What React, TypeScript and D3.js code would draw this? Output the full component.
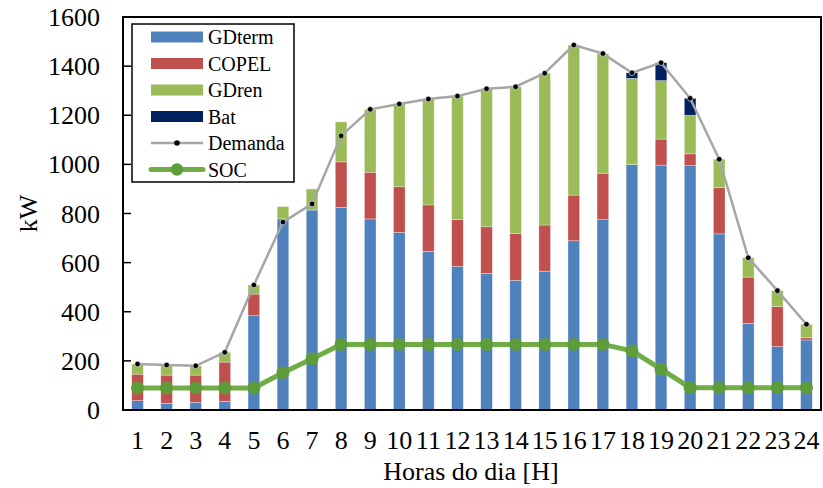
import React from "react";
import * as d3 from "d3";

const hours = ["1","2","3","4","5","6","7","8","9","10","11","12","13","14","15","16","17","18","19","20","21","22","23","24"];
const gdterm = [38,27,31,35,384,778,814,825,778,723,646,585,556,528,565,689,775,999,997,995,717,353,258,285];
const copel = [108,115,111,160,88,0,0,185,190,186,189,190,190,190,188,186,189,0,106,48,188,188,163,9];
const gdren = [41,41,38,40,37,50,86,163,256,337,431,503,562,598,618,611,487,351,238,157,116,79,65,55];
const bat = [0,0,0,0,0,0,0,0,0,0,0,0,0,0,0,0,0,23,73,69,0,0,0,0];
const demanda = [187,183,180,235,509,765,839,1116,1224,1246,1266,1278,1308,1316,1371,1486,1451,1373,1414,1269,1021,620,486,349];
const soc = [90,90,90,90,90,152,209,267,267,267,267,267,267,267,267,267,267,241,166,91,91,91,91,91];
const yTicks = [0,200,400,600,800,1000,1200,1400,1600];

const seriesNames = ["GDterm","COPEL","GDren","Bat"];
const seriesColors = ["#4F81BD","#C0504D","#9BBB59","#002060"];

export default function App() {
  const W = 823, H = 488;
  const left = 123, right = 821, top = 17, bottom = 410;
  const font = "'Liberation Serif', 'Times New Roman', serif";
  const x = d3.scaleBand<string>().domain(hours).range([left, right]).paddingInner(0.6).paddingOuter(0.3);
  const xc = (i: number) => (x(hours[i]) as number) + x.bandwidth() / 2;
  const y = d3.scaleLinear().domain([0, 1600]).range([bottom, top]);

  const rows = hours.map((h, i) => ({ h, GDterm: gdterm[i], COPEL: copel[i], GDren: gdren[i], Bat: bat[i] }));
  const stack = d3.stack<any>().keys(seriesNames)(rows);

  const line = d3.line<number>().x((_, i) => xc(i)).y(d => y(d));

  const lgX = 132, lgY = 24, lgW = 162, lgH = 158, rowH = 26.5;
  return (
    <svg width={W} height={H} style={{ position: "absolute", left: 0, top: 0 }} fontFamily={font}>
      <rect x={0} y={0} width={W} height={H} fill="#fff" />
      {stack.map((s, si) => (
        <g key={si} fill={seriesColors[si]}>
          {s.map((d, i) => d[1] - d[0] > 0 ? (
            <rect key={i} x={x(hours[i])} width={x.bandwidth()} y={y(d[1])} height={y(d[0]) - y(d[1])}
              stroke="#ffffff" strokeOpacity={0.45} strokeWidth={0.7} />
          ) : null)}
        </g>
      ))}
      <path d={line(demanda) || ""} fill="none" stroke="#A6A6A6" strokeWidth={2.5} />
      {demanda.map((d, i) => <circle key={i} cx={xc(i)} cy={y(d)} r={2.8} fill="#000" stroke="#fff" strokeWidth={0.6} />)}
      <path d={line(soc) || ""} fill="none" stroke="#70AD47" strokeWidth={5} />
      {soc.map((d, i) => <circle key={i} cx={xc(i)} cy={y(d)} r={6.5} fill="#5E9C3A" />)}
      <rect x={left} y={top} width={right - left} height={bottom - top} fill="none" stroke="#000" strokeWidth={2} />
      {yTicks.map(t => (
        <g key={t}>
          <line x1={left} x2={left + 8} y1={y(t)} y2={y(t)} stroke="#000" strokeWidth={1.5} />
          <text x={100} y={y(t)} dy="0.35em" textAnchor="end" fontSize={26} fill="#000">{t}</text>
        </g>
      ))}
      {hours.map((h, i) => (
        <text key={h} x={xc(i)} y={449} textAnchor="middle" fontSize={26} fill="#000">{h}</text>
      ))}
      <text x={471} y={480} textAnchor="middle" fontSize={26} fill="#000">Horas do dia [H]</text>
      <text transform={`translate(37, ${(top + bottom) / 2}) rotate(-90)`} textAnchor="middle" fontSize={26} fill="#000">kW</text>
      <rect x={lgX} y={lgY} width={lgW} height={lgH} fill="#fff" stroke="#000" strokeWidth={1.5} />
      {seriesNames.map((n, i) => (
        <g key={n}>
          <rect x={151} y={lgY + 13 + i * rowH - 5.5} width={52} height={11} fill={seriesColors[i]} />
          <text x={208} y={lgY + 13 + i * rowH} dy="0.35em" fontSize={20} fill="#000">{n}</text>
        </g>
      ))}
      <g>
        <line x1={151} x2={203} y1={lgY + 13 + 4 * rowH} y2={lgY + 13 + 4 * rowH} stroke="#A6A6A6" strokeWidth={2.5} />
        <circle cx={177} cy={lgY + 13 + 4 * rowH} r={2.8} fill="#000" />
        <text x={208} y={lgY + 13 + 4 * rowH} dy="0.35em" fontSize={20} fill="#000">Demanda</text>
      </g>
      <g>
        <line x1={151} x2={203} y1={lgY + 13 + 5 * rowH} y2={lgY + 13 + 5 * rowH} stroke="#70AD47" strokeWidth={5} strokeLinecap="round" />
        <circle cx={177} cy={lgY + 13 + 5 * rowH} r={6.2} fill="#5E9C3A" />
        <text x={208} y={lgY + 13 + 5 * rowH} dy="0.35em" fontSize={20} fill="#000">SOC</text>
      </g>
    </svg>
  );
}
